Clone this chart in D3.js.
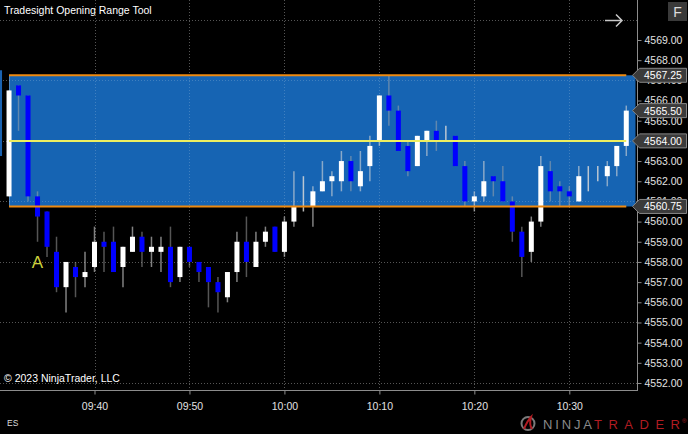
<!DOCTYPE html>
<html><head><meta charset="utf-8">
<script src="https://cdn.jsdelivr.net/npm/d3@7"></script>
<style>
html,body{margin:0;padding:0;background:#000;}
svg{display:block;}
text{font-family:"Liberation Sans",Arial,sans-serif;}
</style></head>
<body>
<script>
// ---------------- DATA ----------------
const times = ["09:31","09:32","09:33","09:34","09:35","09:36","09:37","09:38","09:39","09:40",
"09:41","09:42","09:43","09:44","09:45","09:46","09:47","09:48","09:49","09:50",
"09:51","09:52","09:53","09:54","09:55","09:56","09:57","09:58","09:59","10:00",
"10:01","10:02","10:03","10:04","10:05","10:06","10:07","10:08","10:09","10:10",
"10:11","10:12","10:13","10:14","10:15","10:16","10:17","10:18","10:19","10:20",
"10:21","10:22","10:23","10:24","10:25","10:26","10:27","10:28","10:29","10:30",
"10:31","10:32","10:33","10:34","10:35","10:36"];
const opens = [4561.25,4566.75,4566.25,4561.25,4560.5,4558.5,4556.75,4557.75,4557.25,4557.75,
4559.0,4559.0,4557.75,4558.5,4559.25,4558.5,4558.5,4558.75,4557.25,4558.75,
4558.0,4557.75,4557.0,4556.25,4557.5,4559.0,4557.75,4559.0,4559.75,4558.5,
4560.0,4561.25,4560.75,4561.5,4562.0,4562.0,4563.0,4561.75,4562.75,4564.0,
4566.25,4565.5,4563.75,4562.75,4564.0,4564.5,4564.0,4564.25,4562.75,4561.0,
4561.25,4562.25,4562.0,4561.0,4559.5,4558.5,4560.0,4562.5,4561.75,4561.5,
4561.0,4562.0,4562.25,4562.25,4562.75,4563.75];
const highs = [4566.5,4566.75,4566.25,4561.5,4560.5,4559.25,4558.0,4558.0,4558.5,4559.75,
4559.5,4559.75,4558.75,4559.75,4559.5,4559.25,4559.25,4559.75,4558.75,4558.75,
4558.0,4557.75,4557.25,4557.5,4559.5,4560.25,4559.5,4559.75,4559.75,4560.25,
4562.5,4562.25,4561.75,4563.0,4562.5,4563.5,4563.25,4563.5,4564.25,4566.25,
4567.25,4565.75,4564.0,4564.25,4564.5,4565.0,4564.75,4564.25,4563.0,4561.5,
4563.0,4562.25,4562.75,4561.25,4559.75,4560.25,4563.25,4563.0,4562.0,4561.75,
4562.75,4562.75,4562.75,4563.0,4563.75,4565.75];
const lows = [4561.25,4564.5,4561.0,4559.0,4558.25,4556.5,4555.5,4556.25,4556.75,4557.5,
4557.5,4557.5,4556.75,4558.5,4557.75,4557.75,4557.5,4556.75,4557.0,4557.75,
4557.0,4555.75,4555.5,4556.0,4557.0,4557.25,4557.75,4558.75,4558.5,4558.25,
4559.75,4560.5,4559.75,4561.5,4561.25,4561.5,4561.5,4561.5,4562.0,4563.75,
4564.75,4563.5,4562.25,4562.75,4563.25,4563.5,4564.0,4562.75,4560.75,4560.5,
4561.0,4561.25,4561.0,4559.0,4557.25,4558.0,4559.75,4561.0,4560.75,4560.75,
4561.0,4561.5,4562.0,4561.75,4562.25,4563.25];
const closes = [4566.5,4566.25,4561.25,4560.25,4558.75,4556.75,4558.0,4557.25,4557.5,4559.0,
4558.75,4557.5,4558.75,4559.25,4558.5,4558.75,4558.75,4557.0,4558.75,4558.0,
4557.5,4557.0,4556.5,4557.5,4559.0,4558.0,4559.0,4559.5,4558.5,4560.0,
4560.75,4561.25,4561.5,4562.0,4562.25,4563.0,4562.0,4562.5,4563.75,4566.25,
4565.5,4563.5,4562.5,4564.25,4564.5,4564.0,4564.0,4562.75,4561.0,4561.25,
4562.0,4562.0,4561.0,4559.5,4558.25,4560.0,4562.75,4561.5,4561.5,4561.25,
4562.25,4562.0,4562.25,4562.75,4563.75,4565.5];

// Opening range levels
const rangeHigh = 4567.25, rangeMid = 4564.00, rangeLow = 4560.75;
const rangeStart = "09:31", rangeEnd = "10:36";
// partial prior box at the left edge
const priorTime = "09:30", priorBox = [4567.5, 4563.25];
// price markers on the right axis
const markerValues = [4567.25, 4565.50, 4564.00, 4560.75];
// axis ticks
const yTicks = [4552,4553,4554,4555,4556,4557,4558,4559,4560,4561,4562,4563,4564,4565,4566,4567,4568,4569];
const yGrid = [4570,4567,4564,4561,4558,4555,4552];
const xDomain = ["09:40","10:30"];
// annotation
const labels = [{time:"09:34", price:4558.0, text:"A"}];

// ---------------- CHART ----------------
const W = 688, H = 434;
const plotR = 637, plotB = 390;
const T = s => new Date(2023, 0, 3, +s.slice(0,2), +s.slice(3));
const bars = times.map((t,i)=>({t:T(t), o:opens[i], h:highs[i], l:lows[i], c:closes[i]}));

const x = d3.scaleTime().domain(xDomain.map(T)).range([94.5, 569.3]);
const y = d3.scaleLinear().domain([4552, 4569]).range([383, 40]);
const step = x(T("09:41")) - x(T("09:40"));

const svg = d3.select("body").append("svg").attr("width", W).attr("height", H)
  .style("background", "#000");

svg.append("clipPath").attr("id","plot").append("rect")
  .attr("x",0).attr("y",0).attr("width",plotR).attr("height",plotB);

const xTicks = x.ticks(d3.timeMinute.every(10));
const gridColor = "#555";

// grid under box
const grid = svg.append("g").attr("clip-path","url(#plot)");
grid.selectAll("line.v").data(xTicks).join("line")
  .attr("x1", d=>Math.round(x(d))+0.5).attr("x2", d=>Math.round(x(d))+0.5)
  .attr("y1",0).attr("y2",plotB)
  .attr("stroke",gridColor).attr("stroke-dasharray","1,2");
grid.selectAll("line.h").data(yGrid).join("line")
  .attr("x1",0).attr("x2",plotR)
  .attr("y1", d=>Math.round(y(d))+0.5).attr("y2", d=>Math.round(y(d))+0.5)
  .attr("stroke",gridColor).attr("stroke-dasharray","1,2");

// prior partial box
svg.append("rect").attr("clip-path","url(#plot)")
  .attr("x", x(T(priorTime)) - 2.5).attr("width", 5)
  .attr("y", y(priorBox[0])).attr("height", y(priorBox[1]) - y(priorBox[0]))
  .attr("fill", "#1a62b0");

// opening range box
const bx0 = x(T(rangeStart)), bx1 = x(T(rangeEnd));
const boxColor = "#1664b3";
svg.append("rect").attr("x", bx0).attr("y", y(rangeHigh))
  .attr("width", plotR - 1.5 - bx0).attr("height", y(rangeLow) - y(rangeHigh))
  .attr("fill", boxColor);
svg.append("line").attr("x1", bx0+0.5).attr("x2", bx0+0.5)
  .attr("y1", y(rangeHigh)).attr("y2", y(rangeLow))
  .attr("stroke","rgba(255,255,255,0.25)").attr("stroke-width",1);

// faint grid overlay inside box
svg.append("clipPath").attr("id","boxclip").append("rect")
  .attr("x", bx0).attr("y", y(rangeHigh)).attr("width", plotR - 1.5 - bx0).attr("height", y(rangeLow) - y(rangeHigh));
const og = svg.append("g").attr("clip-path","url(#boxclip)");
og.selectAll("line.v").data(xTicks).join("line")
  .attr("x1", d=>Math.round(x(d))+0.5).attr("x2", d=>Math.round(x(d))+0.5)
  .attr("y1",0).attr("y2",plotB)
  .attr("stroke","rgba(255,255,255,0.18)").attr("stroke-dasharray","1,2");
og.selectAll("line.h").data(yGrid).join("line")
  .attr("x1",0).attr("x2",plotR)
  .attr("y1", d=>Math.round(y(d))+0.5).attr("y2", d=>Math.round(y(d))+0.5)
  .attr("stroke","rgba(255,255,255,0.18)").attr("stroke-dasharray","1,2");

// candles
const cg = svg.append("g").attr("clip-path","url(#plot)");
const wickColor = d => d.c > d.o ? "rgba(215,215,215,0.6)" : (d.c < d.o ? "rgba(170,170,170,0.5)" : "rgba(215,215,215,0.85)");
cg.selectAll("line.w").data(bars).join("line")
  .attr("x1", d=>x(d.t)).attr("x2", d=>x(d.t))
  .attr("y1", d=>y(d.h)).attr("y2", d=>y(d.l))
  .attr("stroke", wickColor).attr("stroke-width", 1.5);
cg.selectAll("rect.b").data(bars.filter(d=>d.o!==d.c)).join("rect")
  .attr("x", d=>x(d.t)-2.5).attr("width", 5)
  .attr("y", d=>y(Math.max(d.o,d.c)))
  .attr("height", d=>Math.abs(y(d.o)-y(d.c)))
  .attr("fill", d=> d.c > d.o ? "#ffffff" : "#0000ff");

// range lines
svg.append("line").attr("x1", bx0).attr("x2", bx1)
  .attr("y1", y(rangeHigh)).attr("y2", y(rangeHigh))
  .attr("stroke","#ee8a10").attr("stroke-width",2);
svg.append("line").attr("x1", bx0).attr("x2", bx1)
  .attr("y1", y(rangeLow)).attr("y2", y(rangeLow))
  .attr("stroke","#ee8a10").attr("stroke-width",2);
svg.append("line").attr("x1", bx0).attr("x2", bx1)
  .attr("y1", y(rangeMid)).attr("y2", y(rangeMid))
  .attr("stroke","#eeee60").attr("stroke-width",2);

// annotation
svg.selectAll("text.lab").data(labels).join("text")
  .attr("x", d=>x(T(d.time))).attr("y", d=>y(d.price)+6.5)
  .attr("text-anchor","middle").attr("font-size",17).attr("fill","#cdd23c")
  .text(d=>d.text);

// axes lines
svg.append("line").attr("x1", plotR+0.5).attr("x2", plotR+0.5).attr("y1",0).attr("y2",plotB+1)
  .attr("stroke","#8c8c8c");
svg.append("line").attr("x1", 0).attr("x2", plotR+1).attr("y1",plotB+0.5).attr("y2",plotB+0.5)
  .attr("stroke","#8c8c8c");

// right axis
const ya = svg.append("g").attr("transform",`translate(${plotR+0.5},0)`)
  .call(d3.axisRight(y).tickValues(yTicks).tickFormat(d3.format(".2f")).tickSize(4).tickPadding(3));
ya.select(".domain").remove();
ya.selectAll(".tick line").attr("stroke","#8c8c8c");
ya.selectAll(".tick text").attr("fill","#e2e2e2").attr("font-size",10.5)
  .attr("font-family",'"Liberation Sans",Arial,sans-serif');

// bottom axis
const xa = svg.append("g").attr("transform",`translate(0,${plotB+0.5})`)
  .call(d3.axisBottom(x).tickValues(xTicks).tickFormat(d3.timeFormat("%H:%M")).tickSize(4).tickPadding(8));
xa.select(".domain").remove();
xa.selectAll(".tick line").attr("stroke","#8c8c8c");
xa.selectAll(".tick text").attr("fill","#e2e2e2").attr("font-size",10.5)
  .attr("font-family",'"Liberation Sans",Arial,sans-serif');

// price markers
const mk = svg.append("g").selectAll("g").data(markerValues).join("g")
  .attr("transform", d=>`translate(0,${y(d)})`);
mk.append("path").attr("d","M632.5,0 L639.5,-7 H686.5 V7 H639.5 Z")
  .attr("fill","#3b3b3b").attr("stroke","#858585").attr("stroke-width",1);
mk.append("text").attr("x",644).attr("y",4).attr("font-size",10.5).attr("fill","#ffffff")
  .text(d=>d3.format(".2f")(d));

// title & texts
svg.append("text").attr("x",4).attr("y",14).attr("font-size",10.5).attr("fill","#ffffff")
  .text("Tradesight Opening Range Tool");
svg.append("text").attr("x",4).attr("y",382).attr("font-size",10.5).attr("fill","#ffffff")
  .text("© 2023 NinjaTrader, LLC");
svg.append("text").attr("x",7).attr("y",426).attr("font-size",8.5).attr("fill","#dddddd")
  .text("ES");

// top-right arrow and F button
svg.append("path").attr("d","M605,20.5 H622 M616,14.5 L622,20.5 L616,26.5")
  .attr("fill","none").attr("stroke","#c8c8c8").attr("stroke-width",1.5);
svg.append("rect").attr("x",668).attr("y",2).attr("width",19).attr("height",19).attr("fill","#3a3a3a");
svg.append("text").attr("x",677.5).attr("y",17).attr("text-anchor","middle").attr("font-size",14)
  .attr("fill","#dddddd").text("F");

// NinjaTrader logo
const lg = svg.append("g");
lg.append("circle").attr("cx",528).attr("cy",423.5).attr("r",6.5)
  .attr("fill","none").attr("stroke","#7a7a7a").attr("stroke-width",2);
lg.append("path").attr("d","M524,429 C526,424 528,420 531,417 C530,421 529,425 532,429")
  .attr("fill","none").attr("stroke","#b01c22").attr("stroke-width",2);
lg.append("text").attr("x",543).attr("y",428.5).attr("font-size",13).attr("font-family","Roboto, sans-serif")
  .attr("font-weight",300).attr("fill","#8a8a8a").attr("textLength",49).attr("lengthAdjust","spacing").text("NINJA");
lg.append("text").attr("x",594).attr("y",428.5).attr("font-size",13).attr("font-family","Roboto, sans-serif")
  .attr("fill","#b01c22").attr("textLength",86).attr("lengthAdjust","spacing").text("TRADER");
lg.append("text").attr("x",682).attr("y",423).attr("font-size",6).attr("fill","#b01c22").text("®");
</script>
</body></html>
